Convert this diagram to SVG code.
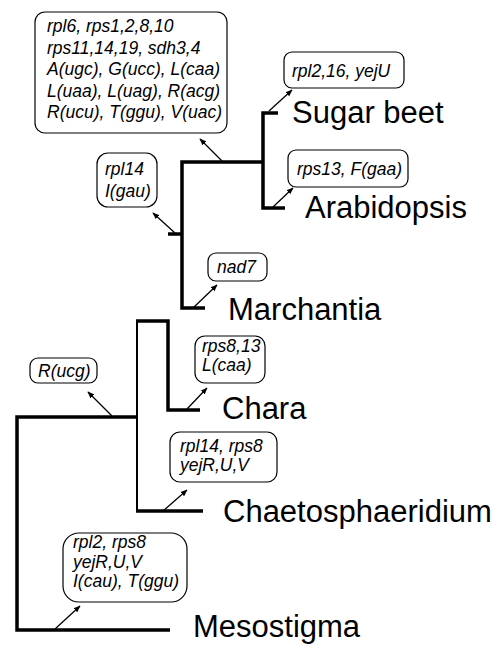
<svg xmlns="http://www.w3.org/2000/svg" width="503" height="647" viewBox="0 0 503 647">
<defs>
<marker id="ah" viewBox="0 0 10 10" refX="9" refY="5" markerWidth="7" markerHeight="7" markerUnits="userSpaceOnUse" orient="auto">
<path d="M0,1 L10,5 L0,9 Z" fill="#000"/>
</marker>
<style>
.br{fill:none;stroke:#000;stroke-width:3.5;stroke-linejoin:miter;stroke-linecap:butt}
.thin{stroke-width:2}
.ar{fill:none;stroke:#000;stroke-width:1.3;marker-end:url(#ah)}
.box{fill:#fff;stroke:#000;stroke-width:1.2}
.bt{font-family:"Liberation Sans",Arial,sans-serif;font-style:italic;font-size:17.5px;fill:#000}
.tx{font-family:"Liberation Sans",Arial,sans-serif;font-size:31px;fill:#000}
</style>
</defs>
<rect width="503" height="647" fill="#fff"/>
<g id="connectors">
<path class="br" d="M170,630 H17 V417 H137"/>
<path class="br thin" d="M137,321 V511"/>
<path class="br" d="M203,511 H136"/>
<path class="br" d="M136,321 H168 V410 H200"/>
<path class="br" d="M168,234 H182"/>
<path class="br" d="M205,308 H182 V162 H263"/>
<path class="br" d="M278,113 H263 V208 H285"/>
<line class="ar" x1="222" y1="161" x2="200" y2="139"/>
<line class="ar" x1="175" y1="233" x2="153" y2="213"/>
<line class="ar" x1="269" y1="111" x2="292" y2="90"/>
<line class="ar" x1="273" y1="207" x2="293" y2="188"/>
<line class="ar" x1="193" y1="308" x2="217" y2="285"/>
<line class="ar" x1="187" y1="409" x2="207" y2="388"/>
<line class="ar" x1="112" y1="416" x2="88" y2="392"/>
<line class="ar" x1="163" y1="511" x2="187" y2="490"/>
<line class="ar" x1="55" y1="629" x2="80" y2="606"/>
</g>
<g id="box-land">
<rect class="box" x="35" y="12" width="192" height="121" rx="10"/>
<text class="bt" x="47" y="32">rpl6, rps1,2,8,10</text>
<text class="bt" x="47" y="53.5">rps11,14,19, sdh3,4</text>
<text class="bt" x="47" y="75">A(ugc), G(ucc), L(caa)</text>
<text class="bt" x="47" y="96.5">L(uaa), L(uag), R(acg)</text>
<text class="bt" x="47" y="118">R(ucu), T(ggu), V(uac)</text>
</g>
<g id="box-rpl14">
<rect class="box" x="97" y="153" width="60" height="54" rx="11"/>
<text class="bt" x="105" y="175">rpl14</text>
<text class="bt" x="105" y="197">I(gau)</text>
</g>
<g id="box-sugarbeet">
<rect class="box" x="284" y="52" width="120" height="36" rx="8"/>
<text class="bt" x="292" y="77">rpl2,16, yejU</text>
</g>
<g id="box-arabidopsis">
<rect class="box" x="288" y="150" width="120" height="37" rx="8"/>
<text class="bt" x="297" y="175">rps13, F(gaa)</text>
</g>
<g id="box-nad7">
<rect class="box" x="208" y="253" width="59" height="28" rx="8"/>
<text class="bt" x="217" y="273">nad7</text>
</g>
<g id="box-chara">
<rect class="box" x="195" y="336" width="70" height="47" rx="10"/>
<text class="bt" x="202" y="352">rps8,13</text>
<text class="bt" x="202" y="371">L(caa)</text>
</g>
<g id="box-rucg">
<rect class="box" x="30" y="358" width="67" height="25" rx="8"/>
<text class="bt" x="38" y="377">R(ucg)</text>
</g>
<g id="box-chaeto">
<rect class="box" x="170" y="432" width="107" height="50" rx="10"/>
<text class="bt" x="180" y="452">rpl14, rps8</text>
<text class="bt" x="180" y="471">yejR,U,V</text>
</g>
<g id="box-meso">
<rect class="box" x="63" y="533" width="124" height="69" rx="16"/>
<text class="bt" x="73" y="548">rpl2, rps8</text>
<text class="bt" x="73" y="568">yejR,U,V</text>
<text class="bt" x="73" y="587">I(cau), T(ggu)</text>
</g>
<g id="taxon-sugarbeet"><text class="tx" x="292" y="123">Sugar beet</text></g>
<g id="taxon-arabidopsis"><text class="tx" x="305" y="218">Arabidopsis</text></g>
<g id="taxon-marchantia"><text class="tx" x="228" y="320">Marchantia</text></g>
<g id="taxon-chara"><text class="tx" x="222" y="419">Chara</text></g>
<g id="taxon-chaeto"><text class="tx" x="223" y="522">Chaetosphaeridium</text></g>
<g id="taxon-meso"><text class="tx" x="193" y="637">Mesostigma</text></g>
</svg>
